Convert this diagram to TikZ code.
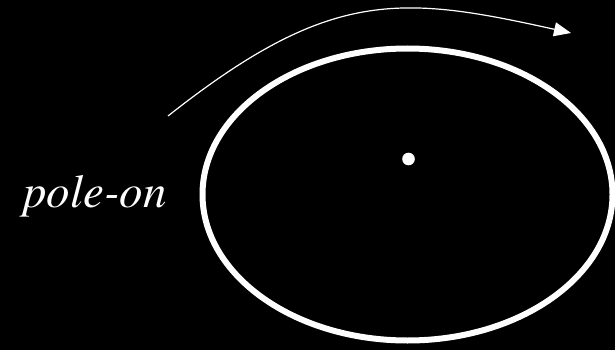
\documentclass[tikz,border=0pt]{standalone}
\usepackage{fontspec}
\newfontfamily\labelfont{texgyretermes-italic.otf}
\usetikzlibrary{arrows.meta}
\begin{document}
\begin{tikzpicture}[x=1pt,y=-1pt,
  orbitline/.style={draw=white,line width=6pt},
  motion/.style={draw=white,line width=1.2pt,-{Triangle[length=17pt,width=14pt]}},
  lbl/.style={text=white,font=\labelfont\fontsize{47}{50}\selectfont,inner sep=0pt,anchor=base west}]
\fill[black] (0,0) rectangle (615,350);
\useasboundingbox (0,0) rectangle (615,350);
\draw[orbitline] (407.5,194.5) ellipse [x radius=205, y radius=146];
\fill[white] (408.5,159) circle [radius=6.3];
\coordinate (s) at (168,116);
\coordinate (e) at (571,33);
\draw[motion] (s) .. controls (330,-12) and (400,-5) .. (e);
\node[lbl] (pole) at (23,207) {pole-on};
\end{tikzpicture}
\end{document}
